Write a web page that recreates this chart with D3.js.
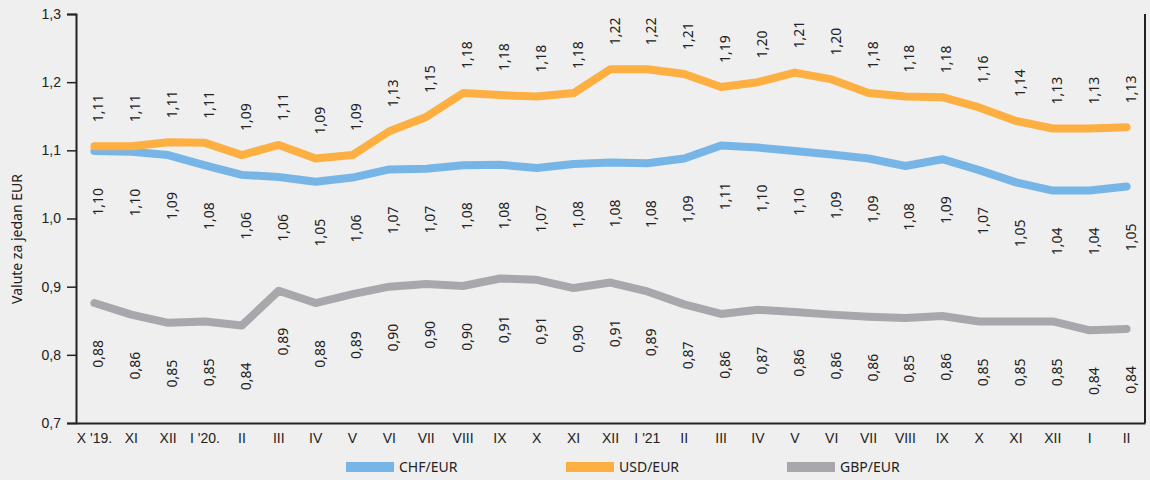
<!DOCTYPE html>
<html lang="hr">
<head>
    <meta charset="UTF-8">
    <title>Tečajevi prema EUR</title>
    <script src="https://d3js.org/d3.v7.min.js"></script>
    <style>
        body {
            margin: 0;
            background: #efefef;
            font-family: "Noto Sans", sans-serif;
        }
        text {
            fill: #222;
            font-size: 14px;
        }
        .line {
            fill: none;
            stroke-width: 8px;
            stroke-linejoin: round;
            stroke-linecap: round;
        }
    </style>
</head>
<body>
    <script>
        // months on the x axis
        const months = ["X '19.", "XI", "XII", "I '20.", "II", "III", "IV", "V", "VI", "VII", "VIII", "IX", "X",
            "XI", "XII", "I '21", "II", "III", "IV", "V", "VI", "VII", "VIII", "IX", "X", "XI", "XII", "I", "II"];

        const chf = [1.099, 1.098, 1.093, 1.078, 1.064, 1.061, 1.054, 1.060, 1.072, 1.073, 1.078, 1.079, 1.074,
            1.080, 1.082, 1.081, 1.088, 1.107, 1.104, 1.099, 1.094, 1.088, 1.077, 1.087, 1.071, 1.053, 1.041, 1.041, 1.047];
        const usd = [1.106, 1.106, 1.112, 1.111, 1.093, 1.108, 1.088, 1.093, 1.128, 1.149, 1.184, 1.181, 1.179,
            1.184, 1.219, 1.219, 1.212, 1.193, 1.200, 1.214, 1.204, 1.184, 1.179, 1.178, 1.163, 1.143, 1.132, 1.132, 1.134];
        const gbp = [0.876, 0.859, 0.847, 0.849, 0.843, 0.894, 0.876, 0.889, 0.900, 0.904, 0.901, 0.912, 0.910,
            0.898, 0.906, 0.893, 0.874, 0.860, 0.866, 0.863, 0.859, 0.856, 0.854, 0.857, 0.849, 0.849, 0.849, 0.836, 0.838];

        const yTicks = [0.7, 0.8, 0.9, 1.0, 1.1, 1.2, 1.3];

        const series = [
            { name: "CHF/EUR", values: chf, color: "#76b5e5", labelPos: "below" },
            { name: "USD/EUR", values: usd, color: "#fdaf42", labelPos: "above" },
            { name: "GBP/EUR", values: gbp, color: "#a8a8ac", labelPos: "below" }
        ];

        const width = 1150, height = 480;
        const svg = d3.select("body").append("svg")
            .attr("width", width)
            .attr("height", height);

        const x = d3.scaleBand().domain(d3.range(months.length)).range([76, 1145]);
        const y = d3.scaleLinear().domain([0.7, 1.3]).range([423, 14]);
        const cx = i => x(i) + x.bandwidth() / 2;
        const fmt = v => d3.format(".2f")(v).replace(".", ",");

        // y axis
        const yAxis = svg.append("g")
            .attr("transform", "translate(76,0)")
            .call(d3.axisLeft(y).tickValues(yTicks).tickSize(9).tickPadding(6)
                .tickFormat(d => d3.format(".1f")(d).replace(".", ",")));
        yAxis.select(".domain").attr("stroke", "#222").attr("stroke-width", 2);
        yAxis.selectAll(".tick line").attr("stroke", "#222").attr("stroke-width", 1.5);
        yAxis.selectAll("text").style("font-size", "14px").attr("fill", "#222");

        // x axis
        const xAxis = svg.append("g")
            .attr("transform", "translate(0,423)")
            .call(d3.axisBottom(x).tickSize(0).tickPadding(10).tickFormat(i => months[i]));
        xAxis.select(".domain").attr("stroke", "#222").attr("stroke-width", 2);
        xAxis.selectAll("text").style("font-size", "14px").attr("fill", "#222");

        // right border
        svg.append("line")
            .attr("x1", 1145).attr("x2", 1145)
            .attr("y1", 14).attr("y2", 423)
            .attr("stroke", "#222").attr("stroke-width", 2);

        // axis title
        svg.append("text")
            .attr("transform", "translate(22,239) rotate(-90)")
            .attr("text-anchor", "middle")
            .text("Valute za jedan EUR");

        const line = d3.line().x((d, i) => cx(i)).y(d => y(d));

        svg.selectAll(".line")
            .data(series)
            .enter()
            .append("path")
            .attr("class", "line")
            .attr("stroke", d => d.color)
            .attr("d", d => line(d.values));

        // value labels (rotated)
        series.forEach(s => {
            svg.append("g").selectAll("text")
                .data(s.values)
                .enter()
                .append("text")
                .attr("transform", (d, i) => {
                    const ty = s.labelPos === "above" ? y(d) - 24 : y(d) + 37;
                    return `translate(${cx(i) + 9},${ty}) rotate(-90)`;
                })
                .attr("text-anchor", s.labelPos === "above" ? "start" : "end")
                .text(d => fmt(d));
        });

        // legend
        const legendX = [346, 566, 787];
        const legend = svg.selectAll(".legend")
            .data(series)
            .enter()
            .append("g")
            .attr("transform", (d, i) => `translate(${legendX[i]},462)`);
        legend.append("rect")
            .attr("width", 48)
            .attr("height", 10)
            .attr("fill", d => d.color);
        legend.append("text")
            .attr("x", 53)
            .attr("y", 10)
            .text(d => d.name);
    </script>
</body>
</html>
